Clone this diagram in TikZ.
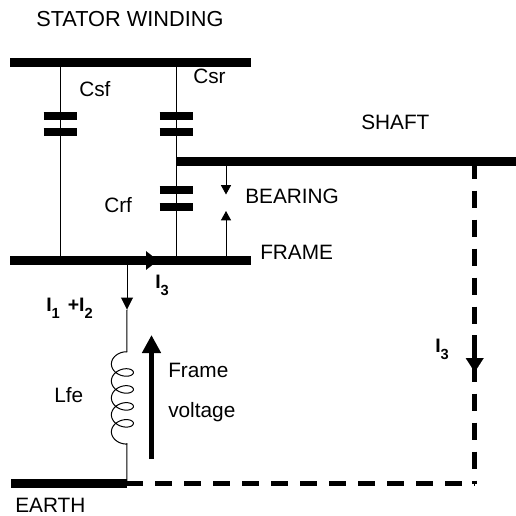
\documentclass[tikz,border=0pt]{standalone}
\usepackage{fontspec}
\setmainfont{Liberation Sans}
\usetikzlibrary{arrows.meta}
\newcommand{\capplates}[2]{
\draw[plate] (#1|-#2) ++(-16.5,-8.2) coordinate (plateA) -- +(33,0);
\draw[plate] (#1|-#2) ++(-16.5,8.2) coordinate (plateB) -- +(33,0);
}
\newcommand{\currentlabel}[1]{\textbf{I}\raisebox{-5.5pt}{\fontsize{11}{13}\selectfont\textbf{#1}}}

\begin{document}
\begin{tikzpicture}[
x=0.75pt, y=-0.75pt,
% conductors
bus/.style={line width=6.4pt},
plate/.style={line width=5.8pt},
wire/.style={line width=0.75pt},
returnpath/.style={line width=4pt, dash pattern=on 12.75pt off 9pt},
% arrows
smalltip/.style={-{Triangle[length=9pt, width=9pt]}},
gaptip/.style={-{Triangle[length=7pt, width=7.5pt]}},
voltarrow/.style={line width=3.75pt, -{Triangle[length=13.5pt, width=13.5pt]}},
% annotations
annot/.style={font=\fontsize{15.6}{18}\selectfont, anchor=base west, inner sep=0},
currentannot/.style={annot, font=\fontsize{14.6}{17}\selectfont},
]

\useasboundingbox (0,0) rectangle (516,515);

% HORIZONTAL COORDINATES
\coordinate (left) at (10,0);
\coordinate (csf) at (60,0);
\coordinate (crf) at (176,0);
\coordinate (lfe) at (127,0);
\coordinate (gap) at (226,0);
\coordinate (right) at (251,0);
\coordinate (shaftend) at (516,0);
\coordinate (ret) at (474.7,0);

% VERTICAL COORDINATES
\coordinate (stator) at (0,62.5);
\coordinate (shaft) at (0,161.5);
\coordinate (frame) at (0,260.5);
\coordinate (earth) at (0,483.5);
\coordinate (capA) at (0,124);
\coordinate (capB) at (0,198.5);

% CONDUCTORS
\draw[wire] (csf|-stator) -- (csf|-frame);
\draw[wire] (crf|-stator) -- (crf|-frame);
\draw[bus] (left|-stator) -- (right|-stator);
\draw[bus] (crf|-shaft) -- (shaftend|-shaft);
\draw[bus] (left|-frame) -- (right|-frame);
\draw[bus] (left|-earth) ++(1,0) -- (lfe|-earth);

% capacitors
\capplates{csf}{capA}
\capplates{crf}{capA}
\capplates{crf}{capB}

% bearing gap
\path (gap|-shaft) +(0,33) coordinate (gaptop);
\path (gap|-frame) +(0,-49.5) coordinate (gapbot);
\draw[wire, gaptip] (gap|-shaft) -- (gaptop);
\draw[wire, gaptip] (gap|-frame) -- (gapbot);

% frame current
\path (lfe|-frame) ++(19,0) coordinate (i3start) +(12,0) coordinate (i3end);
\draw[-{Triangle[length=9pt, width=14pt]}, line width=0.1pt] (i3start) -- (i3end);

% inductor
\coordinate (coiltop) at (126.8,352);
\coordinate (coilbot) at (126.8,443);
\path (lfe|-frame) +(0,49) coordinate (i12tip);
\draw[wire, smalltip] (lfe|-frame) -- (i12tip);
\draw[wire] (i12tip) -- (coiltop);
\draw[wire, domain=65:1735, samples=240, variable=\t] plot ({122.4+11*cos(\t)}, {355.5+0.0471*\t-7.5*sin(\t)});
\draw[wire] (coilbot) -- (lfe|-earth);

% frame voltage
\coordinate (voltfoot) at (151.5,459);
\coordinate (volthead) at (151.5,335);
\draw[voltarrow] (voltfoot) -- (volthead);

% return path through earth
\path (lfe|-earth) +(-1,0) coordinate (retstart);
\draw[returnpath] (ret|-shaft) -- (ret|-earth);
\draw[returnpath] (retstart) -- (ret|-earth);
\path (ret|-earth) +(0,-103.5) coordinate (i3foot) +(0,-148.5) coordinate (i3top);
\draw[line width=4pt] (i3top) -- (i3foot);
\path (i3top) ++(0,23) coordinate (i3base) ++(0,14) coordinate (i3tip);
\draw[-{Triangle[length=10.5pt, width=13.5pt]}, line width=0.1pt] (i3base) -- (i3tip);

% LABELS
\path
(36,26) node[annot, font=\fontsize{16.3}{18}\selectfont] (statorlabel) {STATOR WINDING}
(79,96) node[annot] (csflabel) {Csf}
(193,83) node[annot] (csrlabel) {Csr}
(104,212) node[annot] (crflabel) {Crf}
(361,129) node[annot] (shaftlabel) {SHAFT}
(245,203) node[annot] (bearinglabel) {BEARING}
(260,259) node[annot] (framelabel) {FRAME}
(54,402) node[annot] (lfelabel) {Lfe}
(168,377) node[annot] (voltlabelA) {Frame}
(168,417) node[annot] (voltlabelB) {voltage}
(15,512) node[annot] (earthlabel) {EARTH}
(155,288) node[currentannot] (ithree) {\currentlabel{3}}
(46,311) node[currentannot] (ionetwo) {\currentlabel{1}\hspace{6pt}\textbf{+}\currentlabel{2}}
(435,352) node[currentannot] (ithreeret) {\currentlabel{3}}
;

\end{tikzpicture}
\end{document}
